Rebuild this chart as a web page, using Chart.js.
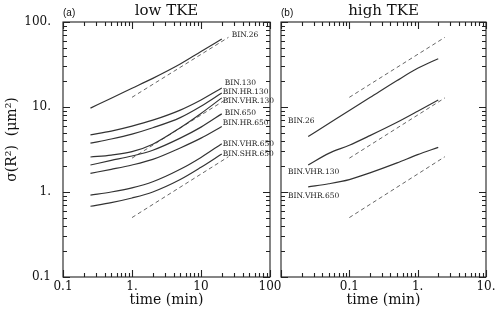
<!DOCTYPE html>
<html>
<head>
<meta charset="utf-8">
<script src="https://cdn.jsdelivr.net/npm/chart.js@4"></script>
<style>
  html, body { margin: 0; padding: 0; background: #fff; }
  #wrap { position: relative; width: 500px; height: 321px; }
  #left { position: absolute; left: 0; top: 0; width: 290px; height: 321px; }
  #right { position: absolute; left: 275px; top: 0; width: 225px; height: 321px; }
</style>
</head>
<body>
<div id="wrap">
  <canvas id="left" width="290" height="321"></canvas>
  <canvas id="right" width="225" height="321"></canvas>
</div>
<script>
// panel (a), low TKE
var timeLow = [0.25, 0.5, 1, 2, 5, 10, 20];
var lowBin26 = [9.7, 12.7, 16.6, 21.7, 32, 45, 63];
var lowBin130 = [4.7, 5.2, 5.95, 7.0, 9.2, 12.1, 16.7];
var lowBinHr130 = [3.75, 4.2, 4.8, 5.7, 7.5, 10.2, 14.6];
var lowBinVhr130 = [2.58, 2.72, 2.98, 3.65, 5.7, 8.4, 12.8];
var lowBin650 = [2.08, 2.35, 2.65, 3.1, 4.3, 5.8, 8.3];
var lowBinHr650 = [1.66, 1.85, 2.08, 2.42, 3.3, 4.3, 5.9];
var lowBinVhr650 = [0.92, 1.0, 1.12, 1.32, 1.85, 2.55, 3.7];
var lowBinShr650 = [0.68, 0.75, 0.85, 1.0, 1.4, 1.95, 2.8];
var timeRefLow = [1, 25];

// panel (b), high TKE
var timeHigh = [0.025, 0.05, 0.1, 0.2, 0.5, 1, 2];
var highBin26 = [4.5, 6.4, 9.1, 12.9, 20.5, 28.5, 37];
var highBinVhr130 = [2.08, 2.85, 3.55, 4.6, 6.6, 8.9, 12.1];
var highBinVhr650 = [1.15, 1.25, 1.4, 1.68, 2.2, 2.75, 3.35];
var timeRefHigh = [0.1, 2.5];

// t^1/2 reference lines (same in both panels)
var refUpper = [13, 66];
var refMiddle = [2.5, 12.8];
var refLower = [0.5, 2.6];

// axes
var yTicks = [0.1, 1, 10, 100];
var yTickLabels = ['0.1', '1.', '10.', '100.'];
var xTicksLow = [0.1, 1, 10, 100];
var xTickLabelsLow = ['0.1', '1.', '10', '100'];
var xTicksHigh = [0.1, 1, 10];
var xTickLabelsHigh = ['0.1', '1.', '10.'];

var SERIF = '"DejaVu Serif", serif';

function pts(xs, ys) {
  return xs.map(function (x, i) { return { x: x, y: ys[i] }; });
}

function solid(xs, ys) {
  return {
    data: pts(xs, ys), showLine: true, pointRadius: 0,
    borderColor: '#333', borderWidth: 1.2, cubicInterpolationMode: 'monotone'
  };
}

function dashed(xs, ys) {
  return {
    data: pts(xs, ys), showLine: true, pointRadius: 0,
    borderColor: '#666', borderWidth: 1, borderDash: [4, 3]
  };
}

function logSteps(min, max) {
  var out = [];
  for (var e = Math.floor(Math.log10(min) + 1e-9); Math.pow(10, e) <= max * 1.0001; e++) {
    for (var k = 1; k < 10; k++) {
      var v = k * Math.pow(10, e);
      if (v >= min * 0.9999 && v <= max * 1.0001) out.push({ v: v, major: k === 1 });
    }
  }
  return out;
}

// frame with inward ticks on all four sides, plus panel texts
var frameTicks = {
  id: 'frameTicks',
  afterDatasetsDraw: function (chart, args, opts) {
    var ctx = chart.ctx, a = chart.chartArea;
    var sx = chart.scales.x, sy = chart.scales.y;
    ctx.save();
    ctx.strokeStyle = '#222';
    ctx.lineWidth = 1.1;
    ctx.strokeRect(a.left, a.top, a.right - a.left, a.bottom - a.top);
    ctx.beginPath();
    logSteps(sx.min, sx.max).forEach(function (t) {
      var px = Math.round(sx.getPixelForValue(t.v)) + 0.5;
      var len = t.major ? 7 : 4;
      ctx.moveTo(px, a.bottom); ctx.lineTo(px, a.bottom - len);
      ctx.moveTo(px, a.top); ctx.lineTo(px, a.top + len);
    });
    logSteps(0.1, 100).forEach(function (t) {
      var py = Math.round(sy.getPixelForValue(t.v)) + 0.5;
      var len = t.major ? 7 : 4;
      ctx.moveTo(a.left, py); ctx.lineTo(a.left + len, py);
      ctx.moveTo(a.right, py); ctx.lineTo(a.right - len, py);
    });
    ctx.stroke();

    ctx.fillStyle = '#111';
    ctx.textBaseline = 'middle';
    ctx.textAlign = 'left';
    ctx.font = '10px "Liberation Sans", sans-serif';
    ctx.fillText(opts.tag, a.left, a.top - 9);
    ctx.textAlign = 'center';
    ctx.font = '15px ' + SERIF;
    ctx.fillText(opts.title, (a.left + a.right) / 2, a.top - 11);

    if (opts.yTitle) {
      ctx.save();
      ctx.translate(12, (a.top + a.bottom) / 2 - 10);
      ctx.rotate(-Math.PI / 2);
      ctx.font = '14px ' + SERIF;
      ctx.fillText(opts.yTitle, 0, 0);
      ctx.restore();
    }

    // curve labels, placed next to an end of their curve
    ctx.font = '7.5px ' + SERIF;
    ctx.fillStyle = '#222';
    ctx.textAlign = 'left';
    opts.labels.forEach(function (l) {
      var d = chart.data.datasets[l.ds].data;
      var p = l.atStart ? d[0] : d[d.length - 1];
      var x = l.atStart ? a.left + l.dx : sx.getPixelForValue(p.x) + l.dx;
      ctx.fillText(l.text, x, sy.getPixelForValue(p.y) + l.dy);
    });
    ctx.restore();
  }
};

function xScale(min, max, ticks, labels) {
  return {
    type: 'logarithmic', min: min, max: max, position: 'bottom',
    grid: { display: false, drawTicks: false }, border: { display: false },
    afterBuildTicks: function (s) { s.ticks = ticks.map(function (v) { return { value: v }; }); },
    afterFit: function (s) { s.height = 44; s.paddingLeft = 0; s.paddingRight = 0; },
    ticks: {
      autoSkip: false, maxRotation: 0, minRotation: 0, padding: 3, color: '#111',
      font: { family: SERIF, size: 12 },
      callback: function (v, i) { return labels[i]; }
    },
    title: {
      display: true, text: 'time (min)', color: '#111',
      font: { family: SERIF, size: 14 }, padding: { top: 0, bottom: 12 }
    }
  };
}

function yScale(width, showLabels) {
  return {
    type: 'logarithmic', min: 0.1, max: 100,
    grid: { display: false, drawTicks: false }, border: { display: false },
    afterBuildTicks: function (s) { s.ticks = yTicks.map(function (v) { return { value: v }; }); },
    afterFit: function (s) { s.width = width; s.paddingTop = 0; s.paddingBottom = 0; },
    ticks: {
      display: showLabels, autoSkip: false, padding: 12, color: '#111',
      font: { family: SERIF, size: 12 },
      callback: function (v, i) { return yTickLabels[i]; }
    }
  };
}

new Chart(document.getElementById('left'), {
  type: 'scatter',
  data: {
    datasets: [
      solid(timeLow, lowBin26),
      solid(timeLow, lowBin130),
      solid(timeLow, lowBinHr130),
      solid(timeLow, lowBinVhr130),
      solid(timeLow, lowBin650),
      solid(timeLow, lowBinHr650),
      solid(timeLow, lowBinVhr650),
      solid(timeLow, lowBinShr650),
      dashed(timeRefLow, refUpper),
      dashed(timeRefLow, refMiddle),
      dashed(timeRefLow, refLower)
    ]
  },
  options: {
    responsive: false, animation: false, devicePixelRatio: 1,
    layout: { padding: { top: 22, right: 20, bottom: 0, left: 0 } },
    scales: { x: xScale(0.1, 100, xTicksLow, xTickLabelsLow), y: yScale(63, true) },
    plugins: {
      legend: { display: false }, tooltip: { enabled: false },
      frameTicks: {
        tag: '(a)', title: 'low TKE', yTitle: 'σ(R²)  (μm²)',
        labels: [
          { ds: 0, text: 'BIN.26', dx: 10, dy: -4 },
          { ds: 1, text: 'BIN.130', dx: 3, dy: -5 },
          { ds: 2, text: 'BIN.HR.130', dx: 1, dy: -1 },
          { ds: 3, text: 'BIN.VHR.130', dx: 1, dy: 3 },
          { ds: 4, text: 'BIN.650', dx: 3, dy: -1 },
          { ds: 5, text: 'BIN.HR.650', dx: 1, dy: -3.5 },
          { ds: 6, text: 'BIN.VHR.650', dx: 1, dy: 0 },
          { ds: 7, text: 'BIN.SHR.650', dx: 1, dy: 0 }
        ]
      }
    }
  },
  plugins: [frameTicks]
});

new Chart(document.getElementById('right'), {
  type: 'scatter',
  data: {
    datasets: [
      solid(timeHigh, highBin26),
      solid(timeHigh, highBinVhr130),
      solid(timeHigh, highBinVhr650),
      dashed(timeRefHigh, refUpper),
      dashed(timeRefHigh, refMiddle),
      dashed(timeRefHigh, refLower)
    ]
  },
  options: {
    responsive: false, animation: false, devicePixelRatio: 1,
    layout: { padding: { top: 22, right: 14, bottom: 0, left: 6 } },
    scales: { x: xScale(0.01, 10, xTicksHigh, xTickLabelsHigh), y: yScale(0, false) },
    plugins: {
      legend: { display: false }, tooltip: { enabled: false },
      frameTicks: {
        tag: '(b)', title: 'high TKE',
        labels: [
          { ds: 0, text: 'BIN.26', atStart: true, dx: 7, dy: -15.5 },
          { ds: 1, text: 'BIN.VHR.130', atStart: true, dx: 7, dy: 7 },
          { ds: 2, text: 'BIN.VHR.650', atStart: true, dx: 7, dy: 9 }
        ]
      }
    }
  },
  plugins: [frameTicks]
});
</script>
</body>
</html>
